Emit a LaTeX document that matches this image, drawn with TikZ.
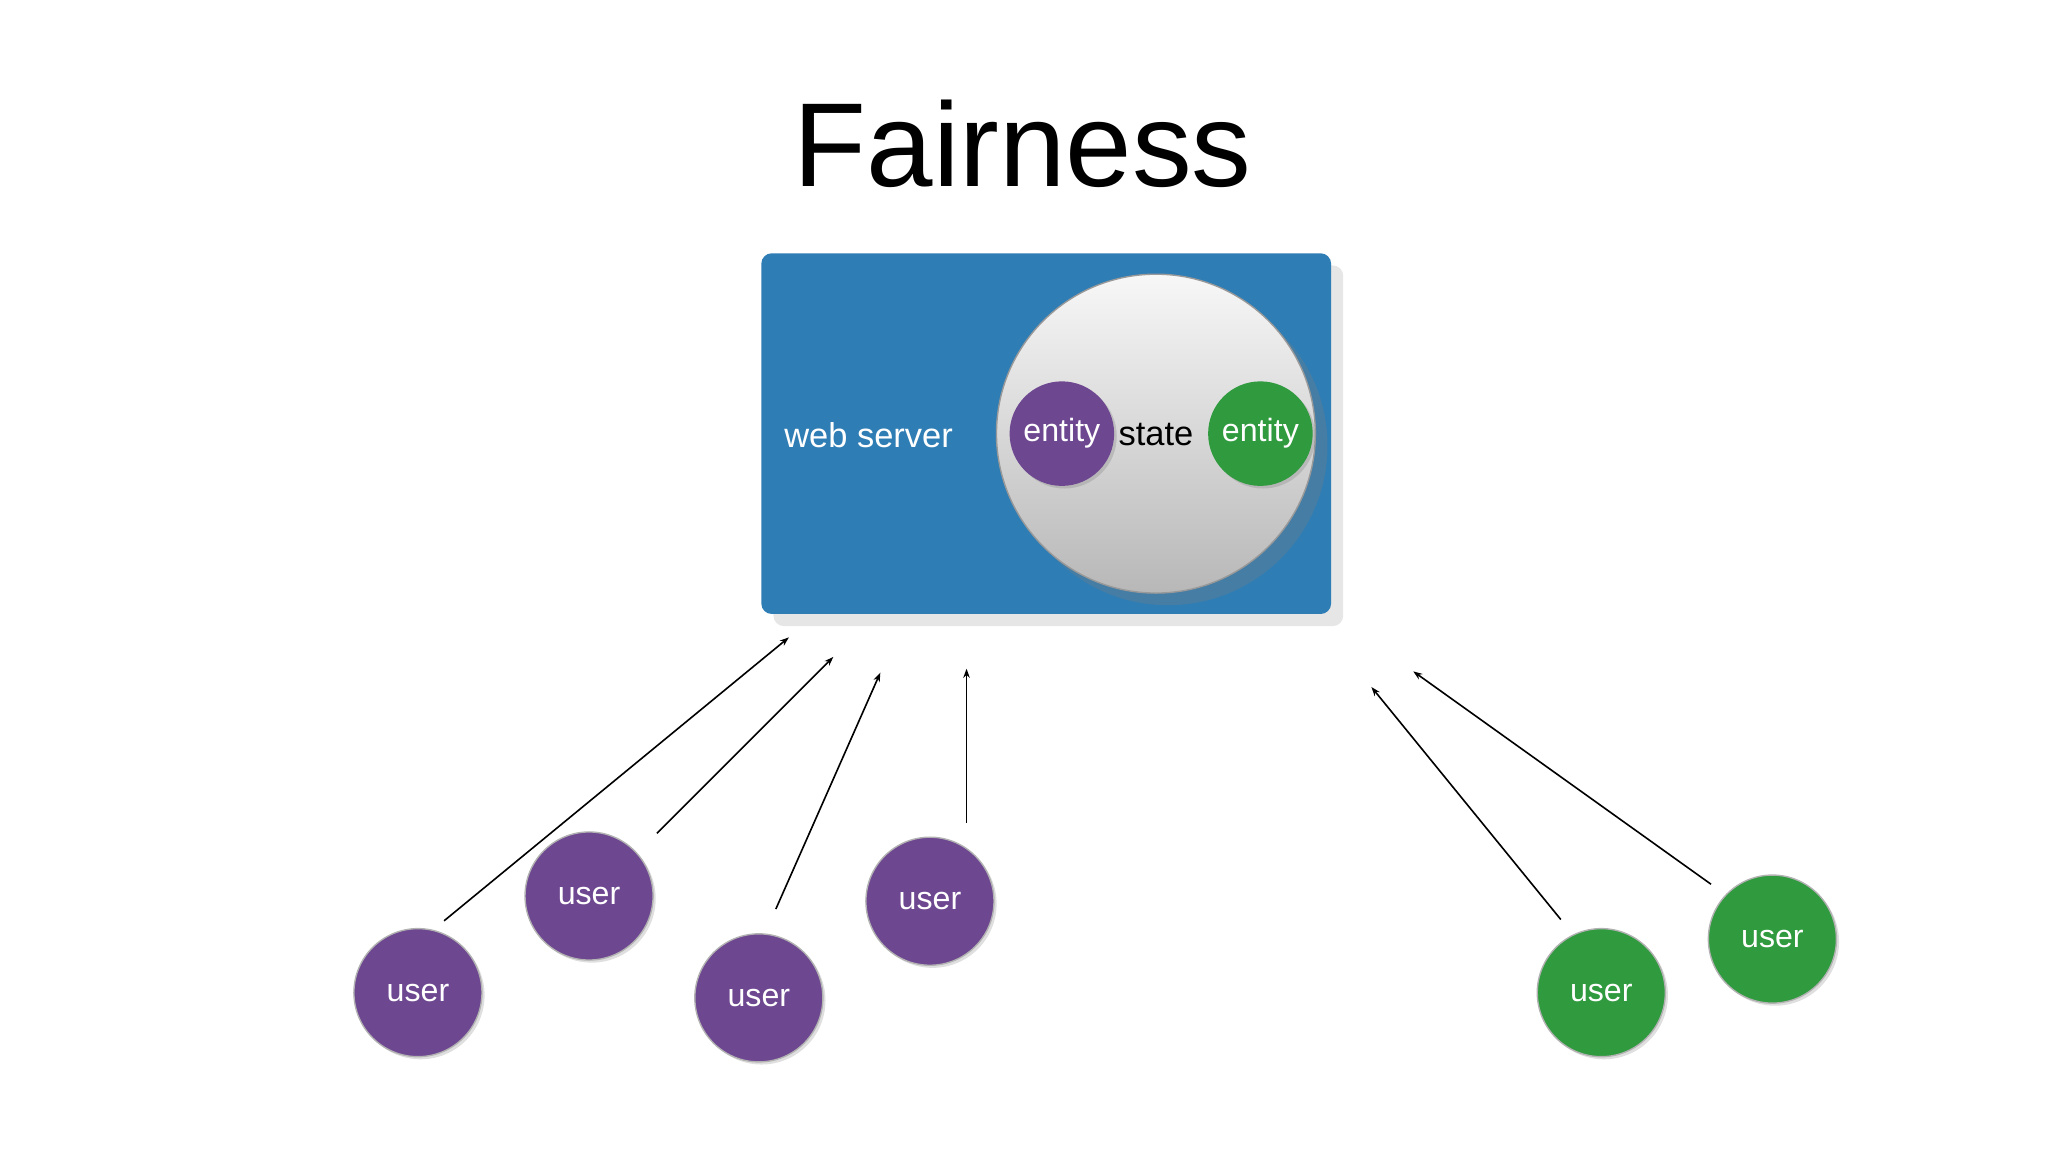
\documentclass[tikz,border=0pt]{standalone}
\usepackage{fontspec}
\setmainfont{Liberation Sans}
\usetikzlibrary{arrows.meta,shadows}
\definecolor{boxblue}{HTML}{2E7DB4}
\definecolor{upurple}{HTML}{6E4791}
\definecolor{ugreen}{HTML}{2F9A3E}
\tikzset{
  user/.style={circle,minimum size=0.98cm,inner sep=0pt,text=white,font=\fontsize{7pt}{8pt}\selectfont,draw=white!70!black,line width=0.3pt,drop shadow={opacity=0.25,shadow xshift=0.02cm,shadow yshift=-0.02cm}},
  pu/.style={user,fill=upurple},
  gu/.style={user,fill=ugreen},
  ent/.style={circle,minimum size=0.8cm,inner sep=0pt,text=white,font=\fontsize{7pt}{8pt}\selectfont,drop shadow={opacity=0.3,shadow xshift=0.02cm,shadow yshift=-0.02cm}},
  arr/.style={-{Stealth[length=0.07cm,width=0.05cm]},line width=0.35pt,black}
}
\begin{document}
\begin{tikzpicture}[x=0.01cm,y=-0.01cm]
\useasboundingbox (0,0) rectangle (1568,882);
\node (title) at (783,110) {\fontsize{26pt}{30pt}\selectfont Fairness};
\node[draw=none,fill=boxblue,rounded corners=0.08cm,minimum width=4.36cm,minimum height=2.76cm,drop shadow={opacity=0.2}] (box) at (801,332) {};
\node[text=white,font=\fontsize{7.5pt}{9pt}\selectfont] (ws) at (665,333) {web server};
\node[circle,minimum size=2.44cm,inner sep=0pt,top color=white!97!black,bottom color=white!72!black,draw=white!60!black,line width=0.3pt,drop shadow={opacity=0.3}] (state) at (885,332) {};
\node[font=\fontsize{7.5pt}{9pt}\selectfont] (st) at (885,333) {state};
\node[ent,fill=upurple] (e1) at (813,332) {entity};
\node[ent,fill=ugreen] (e2) at (965,332) {entity};
\node[pu] (u1) at (320,760) {user};
\node[pu] (u2) at (451,686) {user};
\node[pu] (u3) at (581,764) {user};
\node[pu] (u4) at (712,690) {user};
\node[gu] (g1) at (1226,760) {user};
\node[gu] (g2) at (1357,719) {user};
\coordinate (a1s) at (340,705); \coordinate (a1e) at (604,488);
\coordinate (a2s) at (503,638); \coordinate (a2e) at (638,503);
\coordinate (a3s) at (594,696); \coordinate (a3e) at (674,515);
\coordinate (a4s) at (740,630); \coordinate (a4e) at (740,512);
\coordinate (a5s) at (1195,704); \coordinate (a5e) at (1050,526);
\coordinate (a6s) at (1310,677); \coordinate (a6e) at (1082,514);
\foreach \i in {1,...,6} \draw[arr] (a\i s) -- (a\i e);
\end{tikzpicture}
\end{document}
